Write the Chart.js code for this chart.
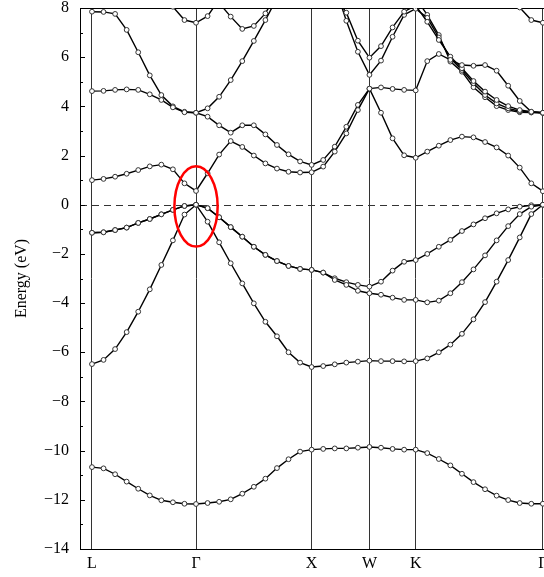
<!DOCTYPE html>
<html><head><meta charset="utf-8">
<script src="https://cdn.jsdelivr.net/npm/chart.js@4.4.1/dist/chart.umd.min.js"></script>
<style>
html,body{margin:0;padding:0;overflow:hidden;background:#fff;}
#wrap{width:560px;height:577px;position:relative;}
</style></head><body>
<div id="wrap"><canvas id="c"></canvas></div>
<script>
// high-symmetry points along the k-path (index of sampled k-point)
const kLabels = ['L', 'Γ', 'X', 'W', 'K', 'Γ'];
const kIndex = [0, 9, 19, 24, 28, 39];
// sampled k-points: L-Γ 0..9, Γ-X 10..19, X-W 20..24, W-K 25..28, K-Γ 29..39
const kPoints = [0,1,2,3,4,5,6,7,8,9,10,11,12,13,14,15,16,17,18,19,20,21,22,23,24,25,26,27,28,29,30,31,32,33,34,35,36,37,38,39];
const yTicks = [8, 6, 4, 2, 0, -2, -4, -6, -8, -10, -12, -14];

// band energies (eV)
const band1 = [-10.67,-10.72,-10.96,-11.26,-11.55,-11.82,-12.02,-12.10,-12.16,-12.17,
  -12.13,-12.08,-11.98,-11.75,-11.47,-11.14,-10.71,-10.35,-10.04,-9.96,
  -9.93,-9.91,-9.91,-9.88,-9.85,
  -9.88,-9.93,-9.96,-9.96,
  -10.10,-10.34,-10.60,-10.94,-11.28,-11.57,-11.83,-12.01,-12.13,-12.16,-12.16];
const band2 = [-6.48,-6.31,-5.87,-5.18,-4.35,-3.44,-2.45,-1.45,-0.40,0,
  -0.69,-1.53,-2.38,-3.20,-4.01,-4.76,-5.35,-6.00,-6.42,-6.60,
  -6.56,-6.49,-6.42,-6.38,-6.34,
  -6.36,-6.36,-6.37,-6.36,
  -6.25,-6.00,-5.69,-5.25,-4.66,-3.96,-3.13,-2.25,-1.33,-0.38,0];
const band3 = [-1.14,-1.12,-1.03,-0.93,-0.74,-0.58,-0.39,-0.21,-0.05,0,
  -0.14,-0.51,-0.91,-1.30,-1.71,-2.04,-2.29,-2.49,-2.61,-2.65,
  -2.76,-3.06,-3.26,-3.50,-3.60,
  -3.66,-3.78,-3.87,-3.87,
  -3.97,-3.90,-3.60,-3.15,-2.63,-2.06,-1.45,-0.87,-0.38,-0.08,0];
const band4 = [-1.14,-1.12,-1.03,-0.93,-0.74,-0.58,-0.39,-0.21,-0.05,0,
  -0.14,-0.51,-0.91,-1.30,-1.71,-2.04,-2.29,-2.49,-2.61,-2.65,
  -2.76,-2.99,-3.15,-3.26,-3.33,
  -3.13,-2.68,-2.32,-2.25,
  -2.00,-1.71,-1.43,-1.07,-0.80,-0.55,-0.35,-0.19,-0.08,-0.02,0];
const band5 = [1.00,1.05,1.14,1.26,1.41,1.56,1.63,1.44,0.87,0.56,
  1.28,2.04,2.59,2.35,2.00,1.68,1.47,1.34,1.31,1.32,
  1.55,2.16,2.90,3.85,4.72,
  3.74,2.70,2.01,1.91,
  2.16,2.40,2.63,2.77,2.74,2.55,2.33,2.00,1.51,0.87,0.55];
const band6 = [4.62,4.63,4.67,4.69,4.67,4.49,4.26,3.96,3.76,3.74,
  3.58,3.23,2.93,3.23,3.23,2.86,2.43,2.05,1.76,1.62,
  1.82,2.36,3.17,4.06,4.72,
  4.77,4.71,4.67,4.65,
  5.84,6.13,5.89,5.68,5.65,5.68,5.45,4.84,4.22,3.78,3.74];
const band7 = [7.85,7.84,7.76,7.11,6.20,5.26,4.46,4.00,3.78,3.74,
  3.92,4.39,5.07,5.84,6.66,7.51,8.40,null,null,null,
  null,8.50,7.81,6.67,5.98,
  6.45,7.21,7.85,8.10,
  7.44,6.70,6.02,5.55,5.03,4.60,4.26,4.01,3.85,3.78,3.74];
const band8 = [null,null,null,null,null,null,8.90,8.05,7.51,7.40,
  7.67,8.35,null,null,null,null,null,null,null,null,
  null,8.90,7.48,6.22,5.28,
  5.86,6.83,7.72,7.97,
  7.60,6.80,5.95,5.48,4.94,4.46,4.12,3.92,3.80,3.76,3.74];
const band9 = [null,null,null,null,null,null,null,null,null,null,
  null,8.20,7.65,7.15,7.27,7.78,8.60,null,null,null,
  null,null,null,null,null,
  null,null,null,null,
  null,null,null,null,null,null,null,8.90,8.02,7.51,7.40];
const band10 = [null,null,null,null,null,null,null,null,null,null,
  null,null,null,null,null,null,null,null,null,null,
  null,null,null,null,null,
  null,null,null,8.40,
  7.72,6.90,5.82,5.41,4.78,4.37,4.01,3.85,3.76,3.75,3.74];
const bands = [band1, band2, band3, band4, band5, band6, band7, band8, band9, band10];

// highlighted region around Γ (data units)
const mark = { k: 9, e: -0.07, rk: 1.87, re: 1.63 };

const serif = 'Liberation Serif, "Times New Roman", serif';

const datasets = bands.map((b, n) => ({
  label: 'band ' + (n + 1),
  data: kPoints.map((k, i) => ({ x: k, y: b[i] })),
  borderColor: '#000',
  borderWidth: 1.4,
  pointRadius: 2.4,
  pointBorderWidth: 1,
  pointBorderColor: '#333',
  pointBackgroundColor: '#fff',
  tension: 0,
  spanGaps: false,
  clip: 0
}));

const framePlugin = {
  id: 'frame',
  beforeDatasetsDraw(chart) {
    const { ctx, chartArea: a, scales: { y } } = chart;
    ctx.save();
    // Fermi level dashed line
    const y0 = Math.round(y.getPixelForValue(0)) + 0.5;
    ctx.strokeStyle = '#333';
    ctx.lineWidth = 1;
    ctx.setLineDash([7, 5]);
    ctx.beginPath(); ctx.moveTo(a.left, y0); ctx.lineTo(a.right, y0); ctx.stroke();
    ctx.setLineDash([]);
    // top and right frame
    ctx.strokeStyle = '#000';
    ctx.beginPath();
    ctx.moveTo(a.left, Math.round(a.top) + 0.5); ctx.lineTo(a.right, Math.round(a.top) + 0.5);
    ctx.moveTo(Math.round(a.right) - 0.5, a.top); ctx.lineTo(Math.round(a.right) - 0.5, a.bottom);
    ctx.stroke();
    // inward tick marks on the energy axis
    ctx.beginPath();
    for (let v = -14; v <= 8; v++) {
      const py = Math.round(y.getPixelForValue(v)) + 0.5;
      const len = (v % 2 === 0) ? 5 : 3;
      ctx.moveTo(a.left, py); ctx.lineTo(a.left + len, py);
    }
    ctx.stroke();
    ctx.restore();
  },
  afterDatasetsDraw(chart) {
    const { ctx, scales: { x, y } } = chart;
    const cx = x.getPixelForValue(mark.k), cy = y.getPixelForValue(mark.e);
    const rx = Math.abs(x.getPixelForValue(mark.k + mark.rk) - cx);
    const ry = Math.abs(y.getPixelForValue(mark.e + mark.re) - cy);
    ctx.save();
    ctx.strokeStyle = '#ff0000';
    ctx.lineWidth = 2.5;
    ctx.beginPath(); ctx.ellipse(cx, cy, rx, ry, 0, 0, Math.PI * 2); ctx.stroke();
    ctx.restore();
  }
};

new Chart(document.getElementById('c'), {
  type: 'line',
  data: { datasets },
  plugins: [framePlugin],
  options: {
    responsive: true,
    maintainAspectRatio: false,
    animation: false,
    devicePixelRatio: 1,
    layout: { padding: { top: 8, right: 4, left: 0, bottom: 0 } },
    plugins: { legend: { display: false }, tooltip: { enabled: false } },
    scales: {
      x: {
        type: 'linear',
        min: -1.036, max: 40.05,
        afterBuildTicks: s => { s.ticks = kIndex.map(v => ({ value: v })); },
        ticks: {
          autoSkip: false, maxRotation: 0, padding: 5,
          font: { family: serif, size: 16 }, color: '#000',
          callback: (v, i) => kLabels[i]
        },
        grid: { display: true, drawTicks: false, color: '#333', lineWidth: 1 },
        border: { display: true, color: '#000', width: 1 },
        afterFit: s => { s.height = 28; s.paddingLeft = 0; s.paddingRight = 0; }
      },
      y: {
        type: 'linear',
        min: -14, max: 8,
        afterBuildTicks: s => { s.ticks = yTicks.map(v => ({ value: v })); },
        ticks: {
          padding: 11,
          font: { family: serif, size: 16 }, color: '#000',
          callback: v => v < 0 ? '\u2212' + Math.abs(v) : String(v)
        },
        grid: { display: false, drawTicks: false },
        border: { display: true, color: '#000', width: 1 },
        title: {
          display: true, text: 'Energy (eV)', color: '#000',
          font: { family: serif, size: 16 }, padding: { top: 12, bottom: 0 }
        },
        afterFit: s => { s.width = 80; s.paddingTop = 0; s.paddingBottom = 0; }
      }
    }
  }
});
</script>
</body></html>
